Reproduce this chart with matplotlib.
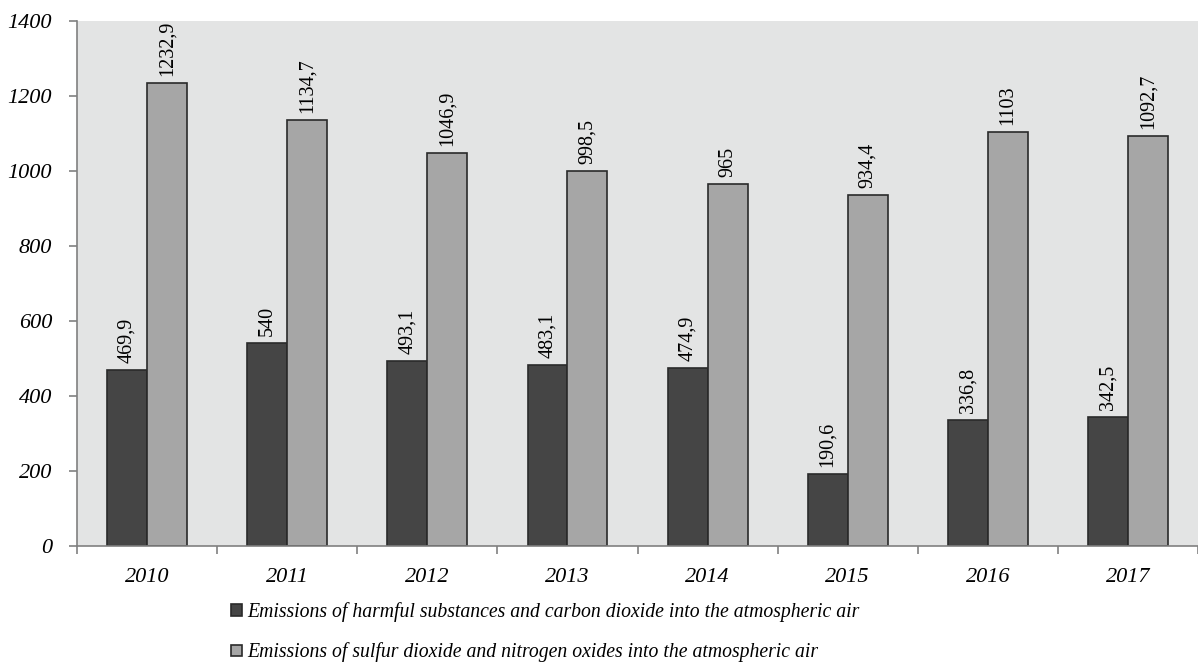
import matplotlib.pyplot as plt
import numpy as np

years = ['2010', '2011', '2012', '2013', '2014', '2015', '2016', '2017']
harmful = [469.9, 540, 493.1, 483.1, 474.9, 190.6, 336.8, 342.5]
sulfur = [1232.9, 1134.7, 1046.9, 998.5, 965, 934.4, 1103, 1092.7]
labels = ['Emissions of harmful substances and carbon dioxide into the atmospheric air',
          'Emissions of sulfur dioxide and nitrogen oxides into the atmospheric air']

plt.rcParams['font.family'] = ['Liberation Serif', 'DejaVu Serif']
plt.rcParams['font.style'] = 'italic'

fig = plt.figure(figsize=(11.98, 6.69), dpi=100)
ax = fig.add_axes([0.0643, 0.184, 0.9357, 0.785])
ax.set_facecolor('#e3e4e4')

x = np.arange(len(years))
w = 0.285
b1 = ax.bar(x - w / 2, harmful, w, color='#454545', edgecolor='#2a2a2a', linewidth=1.2, label=labels[0])
b2 = ax.bar(x + w / 2, sulfur, w, color='#a6a6a6', edgecolor='#2a2a2a', linewidth=1.2, label=labels[1])

def fmt(v):
    s = ('%g' % v).replace('.', ',')
    return s

for bars, vals in ((b1, harmful), (b2, sulfur)):
    for r, v in zip(bars, vals):
        ax.annotate(fmt(v), (r.get_x() + r.get_width() / 2, v), xytext=(0, 5),
                    textcoords='offset points', rotation=90, ha='center', va='bottom',
                    fontsize=14.5, style='normal', color='#000000')

ax.set_ylim(0, 1400)
ax.set_xlim(-0.5, 7.47)
ax.set_yticks(range(0, 1401, 200))
ax.set_yticklabels([str(v) for v in range(0, 1401, 200)], fontsize=16, style='italic')
ax.set_xticks(np.arange(-0.5, 8, 1), minor=False)
ax.set_xticklabels([])
ax.set_xticks(x, minor=True)
ax.set_xticklabels(years, minor=True, fontsize=16, style='italic')
ax.tick_params(axis='x', which='minor', length=0, pad=16)
ax.tick_params(axis='x', which='major', length=6, color='#808080', width=1.2)
ax.tick_params(axis='y', length=6, color='#808080', width=1.2, pad=12)

for s in ['top', 'right']:
    ax.spines[s].set_visible(False)
for s in ['left', 'bottom']:
    ax.spines[s].set_color('#808080')
    ax.spines[s].set_linewidth(1.2)

fig.legend(loc='upper left', bbox_to_anchor=(0.185, 0.115), frameon=False,
           prop={'style': 'italic', 'size': 14.2}, handlelength=0.55, handleheight=0.55,
           handletextpad=0.25, labelspacing=1.05, borderpad=0)

fig.savefig('out.png', dpi=100)
